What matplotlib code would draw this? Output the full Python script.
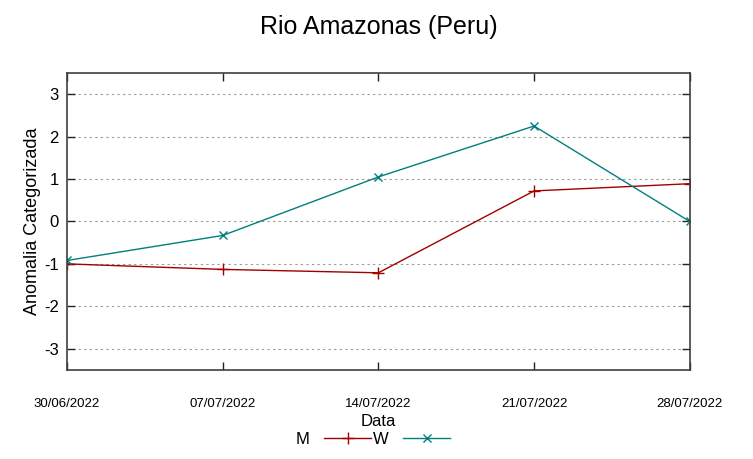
import numpy as np
import pandas as pd
import matplotlib
matplotlib.use("Agg")
import matplotlib.pyplot as plt

# data
dates = ["30/06/2022", "07/07/2022", "14/07/2022", "21/07/2022", "28/07/2022"]
m_values = [-1.0, -1.13, -1.21, 0.72, 0.89]
w_values = [-0.92, -0.33, 1.05, 2.25, 0.0]
yticks = [-3, -2, -1, 0, 1, 2, 3]

plt.rcParams['font.family'] = ['Liberation Sans', 'DejaVu Sans']

x = pd.to_datetime(dates, format="%d/%m/%Y")

fig = plt.figure(figsize=(7.53, 4.59), dpi=100)
ax = fig.add_axes([0.089, 0.194, 0.827, 0.647])

ax.plot(x, m_values, color='#a00000', lw=1, marker='+', ms=8, mew=1, label='M')
ax.plot(x, w_values, color='#007f7f', lw=1, marker='x', ms=6, mew=1, label='W')

ax.set_xlim(x[0], x[-1])
ax.set_ylim(-3.5, 3.5)
ax.set_xticks(x)
ax.set_xticklabels(dates, fontsize=9.5)
ax.set_yticks(yticks)
ax.set_yticklabels([str(v) for v in yticks], fontsize=12)

ax.tick_params(axis='both', direction='in', length=6, width=1, color='#222222',
               top=True, right=True)
ax.tick_params(axis='x', pad=20)
ax.tick_params(axis='y', pad=6)
for s in ax.spines.values():
    s.set_linewidth(1.2)
    s.set_color('#404040')

ax.grid(axis='y', color='#999999', linestyle=(0, (2, 3)), lw=0.8)
ax.set_axisbelow(True)

ax.set_title("Rio Amazonas (Peru)", fontsize=18, pad=28)
ax.set_ylabel("Anomalia Categorizada", fontsize=13, labelpad=2)
ax.set_xlabel("Data", fontsize=12, labelpad=3)

fig.legend(loc='center', bbox_to_anchor=(0.495, 0.043), ncol=2, markerfirst=False,
           frameon=False, handlelength=2.8, columnspacing=0.1, handletextpad=0.9,
           prop={'size': 12})

fig.savefig("out.png", dpi=100)
